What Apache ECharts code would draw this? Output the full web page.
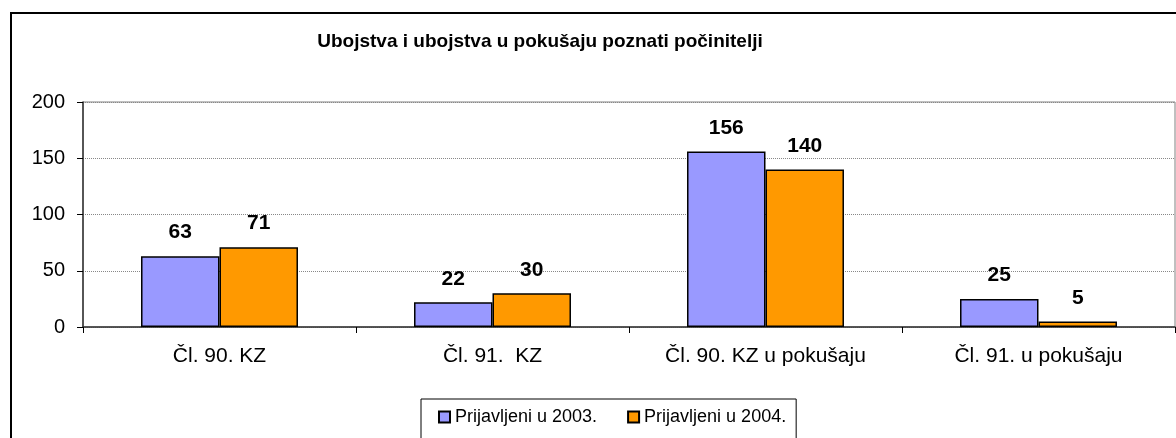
<!DOCTYPE html>
<html>
<head>
<meta charset="utf-8">
<script src="https://cdn.jsdelivr.net/npm/echarts@6/dist/echarts.min.js"></script>
<style>
  html, body { margin: 0; padding: 0; background: #fff; }
  #chart { width: 1176px; height: 438px; }
</style>
</head>
<body>
<div id="chart"></div>
<script>
// podaci
var categories = ['Čl. 90. KZ', 'Čl. 91.  KZ', 'Čl. 90. KZ u pokušaju', 'Čl. 91. u pokušaju'];
var seriesNames = ['Prijavljeni u 2003.', 'Prijavljeni u 2004.'];
var values2003 = [63, 22, 156, 25];
var values2004 = [71, 30, 140, 5];
var yTicks = [0, 50, 100, 150, 200];

var chart = echarts.init(document.getElementById('chart'));
var font = 'Liberation Sans, Arial, sans-serif';

var labelStyle = {
  show: true,
  position: 'top',
  distance: 13,
  color: '#000',
  fontFamily: font,
  fontWeight: 'bold',
  fontSize: 21
};

chart.setOption({
  animation: false,
  backgroundColor: '#fff',
  title: {
    text: 'Ubojstva i ubojstva u pokušaju poznati počinitelji',
    left: 535,
    textAlign: 'center',
    top: 27,
    textStyle: { fontFamily: font, fontWeight: 'bold', fontSize: 19, color: '#000' }
  },
  graphic: [{
    type: 'rect',
    shape: { x: 11, y: 13, width: 1300, height: 600 },
    style: { fill: 'none', stroke: '#000', lineWidth: 2 },
    silent: true
  }],
  legend: {
    data: seriesNames,
    icon: 'rect',
    left: 421,
    top: 399,
    itemWidth: 11,
    itemHeight: 11,
    itemGap: 30,
    padding: [9, 10, 20, 17],
    borderColor: '#000',
    borderWidth: 1,
    textStyle: { fontFamily: font, fontSize: 18, color: '#000' }
  },
  grid: {
    left: 83, right: 1, top: 102, bottom: 111,
    show: true, borderColor: '#808080', borderWidth: 1
  },
  xAxis: {
    type: 'category',
    data: categories,
    axisLine: { lineStyle: { color: '#333', width: 1.5 } },
    axisTick: { show: true, length: 6, lineStyle: { color: '#000' } },
    axisLabel: { fontFamily: font, fontSize: 21, color: '#000', margin: 19 }
  },
  yAxis: {
    type: 'value',
    min: yTicks[0],
    max: yTicks[yTicks.length - 1],
    interval: 50,
    axisLine: { show: true, lineStyle: { color: '#333', width: 1.5 } },
    axisTick: { show: true, length: 6, lineStyle: { color: '#000' } },
    axisLabel: { fontFamily: font, fontSize: 20, color: '#000', margin: 18 },
    splitLine: { lineStyle: { color: '#888', type: 'dotted', width: 1 } }
  },
  series: [{
    name: seriesNames[0],
    type: 'bar',
    data: values2003,
    barGap: '0%',
    barCategoryGap: '42.5%',
    itemStyle: { color: '#9999FF', borderColor: '#000', borderWidth: 1.5 },
    label: labelStyle
  }, {
    name: seriesNames[1],
    type: 'bar',
    data: values2004,
    barGap: '0%',
    barCategoryGap: '42.5%',
    itemStyle: { color: '#FF9900', borderColor: '#000', borderWidth: 1.5 },
    label: labelStyle
  }]
});
</script>
</body>
</html>
